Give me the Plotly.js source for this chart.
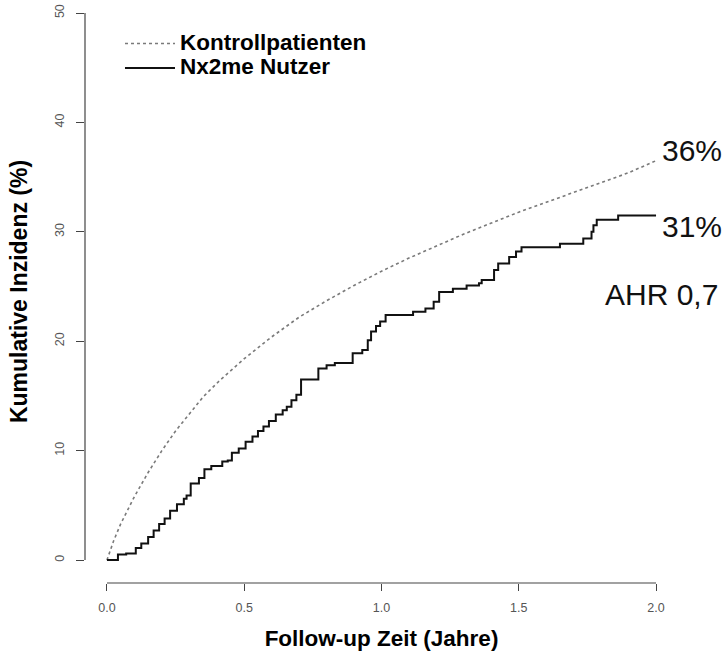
<!DOCTYPE html>
<html>
<head>
<meta charset="utf-8">
<script src="https://cdn.plot.ly/plotly-3.0.1.min.js"></script>
<style>html,body{margin:0;padding:0;background:#fff;}#chart{width:726px;height:659px;}</style>
</head>
<body>
<div id="chart"></div>
<script>
// Kontrollpatienten (dotted curve)
var kontrollX = [0, 0.01, 0.025, 0.05, 0.075, 0.1, 0.15, 0.2, 0.25, 0.3, 0.35, 0.41, 0.5, 0.6, 0.7, 0.8, 0.9, 1.0, 1.1, 1.2, 1.3, 1.4, 1.5, 1.6, 1.7, 1.8, 1.9, 2.0];
var kontrollY = [0, 0.8, 1.8, 3.3, 4.6, 5.8, 8.0, 10.0, 11.8, 13.4, 14.9, 16.4, 18.4, 20.4, 22.2, 23.7, 25.1, 26.4, 27.6, 28.7, 29.8, 30.8, 31.8, 32.7, 33.6, 34.5, 35.4, 36.5];

// Nx2me Nutzer (step curve): jump times and new levels
var nutzerX = [0, 0.04, 0.07, 0.105, 0.125, 0.15, 0.17, 0.19, 0.21, 0.23, 0.255, 0.28, 0.29, 0.305, 0.335, 0.355, 0.38, 0.42, 0.44, 0.455, 0.48, 0.505, 0.53, 0.55, 0.57, 0.59, 0.615, 0.64, 0.655, 0.672, 0.69, 0.707, 0.77, 0.8, 0.83, 0.895, 0.93, 0.95, 0.962, 0.98, 0.995, 1.015, 1.115, 1.16, 1.19, 1.21, 1.26, 1.31, 1.355, 1.365, 1.41, 1.425, 1.465, 1.49, 1.51, 1.65, 1.735, 1.765, 1.772, 1.784, 1.862, 2.0];
var nutzerY = [0, 0.5, 0.6, 1.1, 1.5, 2.1, 2.7, 3.3, 3.8, 4.5, 5.1, 5.6, 5.9, 7.0, 7.5, 8.3, 8.6, 9.0, 9.1, 9.8, 10.2, 10.8, 11.3, 11.8, 12.2, 12.7, 13.3, 13.7, 14.0, 14.6, 15.1, 16.5, 17.5, 17.8, 18.0, 18.9, 19.2, 20.1, 20.9, 21.4, 21.8, 22.4, 22.7, 23.0, 23.6, 24.5, 24.8, 25.1, 25.3, 25.6, 26.5, 27.1, 27.7, 28.2, 28.6, 28.9, 29.4, 30.0, 30.6, 31.1, 31.5, 31.5];

var seriesNames = ["Kontrollpatienten", "Nx2me Nutzer"];
var xTickVals = [0, 0.5, 1, 1.5, 2];
var xTickText = ["0.0", "0.5", "1.0", "1.5", "2.0"];
var yTickVals = [0, 10, 20, 30, 40, 50];
var yTickText = ["0", "10", "20", "30", "40", "50"];
var endLabels = ["36%", "31%"];
var hrLabel = "AHR 0,7";

var F = "Liberation Sans, Arial, Helvetica, sans-serif";

var traces = [
  {
    x: kontrollX, y: kontrollY, type: "scatter", mode: "lines",
    name: '<span style="font-size:22.5px">' + seriesNames[0] + '</span>',
    line: {color: "#7a7a7a", width: 1.6, dash: "3px,3px", shape: "linear"}
  },
  {
    x: nutzerX, y: nutzerY, type: "scatter", mode: "lines",
    name: '<span style="font-size:22.5px">' + seriesNames[1] + '</span>',
    line: {color: "#111111", width: 2, shape: "hv"}
  }
];

var lastK = kontrollY[kontrollY.length - 1];
var lastN = nutzerY[nutzerY.length - 1];
var lastX = kontrollX[kontrollX.length - 1];

var layout = {
  width: 726, height: 659,
  margin: {l: 85, r: 48, t: 0, b: 76, pad: 0},
  paper_bgcolor: "#ffffff", plot_bgcolor: "#ffffff",
  font: {family: F, color: "#000"},
  showlegend: true,
  legend: {
    x: 0.059, y: 0.955, xanchor: "left", yanchor: "top",
    bgcolor: "rgba(0,0,0,0)", borderwidth: 0,
    font: {family: F, size: 16.5, color: "#000", weight: "bold"},
    itemwidth: 50, tracegroupgap: 0
  },
  xaxis: {
    range: [-0.08, 2.08], showgrid: false, zeroline: false, showline: false,
    tickmode: "array", tickvals: xTickVals, ticktext: xTickText,
    ticks: "outside", ticklen: 7, tickwidth: 1, tickcolor: "#444",
    ticklabelstandoff: 6,
    tickfont: {family: F, size: 12.5, color: "#555"},
    title: {text: "<b>Follow-up Zeit (Jahre)</b>", font: {family: F, size: 22.5, color: "#000"}, standoff: 16},
    fixedrange: true
  },
  yaxis: {
    range: [-2.1, 51.19], showgrid: false, zeroline: false, showline: false,
    tickmode: "array", tickvals: yTickVals, ticktext: yTickText,
    ticks: "outside", ticklen: 8, tickwidth: 1, tickcolor: "#444",
    tickangle: -90, ticklabelstandoff: 7,
    tickfont: {family: F, size: 12.5, color: "#555"},
    title: {text: "<b>Kumulative Inzidenz (%)</b>", font: {family: F, size: 23, color: "#000"}, standoff: 18},
    fixedrange: true
  },
  shapes: [
    {type: "line", xref: "x", yref: "paper", x0: xTickVals[0], x1: xTickVals[xTickVals.length - 1], y0: 0, y1: 0,
     line: {color: "#444", width: 1.2}},
    {type: "line", xref: "paper", yref: "y", x0: 0, x1: 0, y0: yTickVals[0], y1: yTickVals[yTickVals.length - 1],
     line: {color: "#444", width: 1.2}}
  ],
  annotations: [
    {x: lastX, y: lastK, xref: "x", yref: "y", text: endLabels[0], showarrow: false,
     xanchor: "left", yanchor: "middle", xshift: 4, yshift: 10, font: {family: F, size: 30, color: "#111"}},
    {x: lastX, y: lastN, xref: "x", yref: "y", text: endLabels[1], showarrow: false,
     xanchor: "left", yanchor: "middle", xshift: 4, yshift: -11, font: {family: F, size: 30, color: "#111"}},
    {x: 1, y: lastN - 7.2, xref: "paper", yref: "y", text: hrLabel, showarrow: false,
     xanchor: "right", yanchor: "middle", xshift: 42, font: {family: F, size: 30, color: "#111"}}
  ]
};

Plotly.newPlot("chart", traces, layout, {displayModeBar: false, staticPlot: true});
</script>
</body>
</html>
